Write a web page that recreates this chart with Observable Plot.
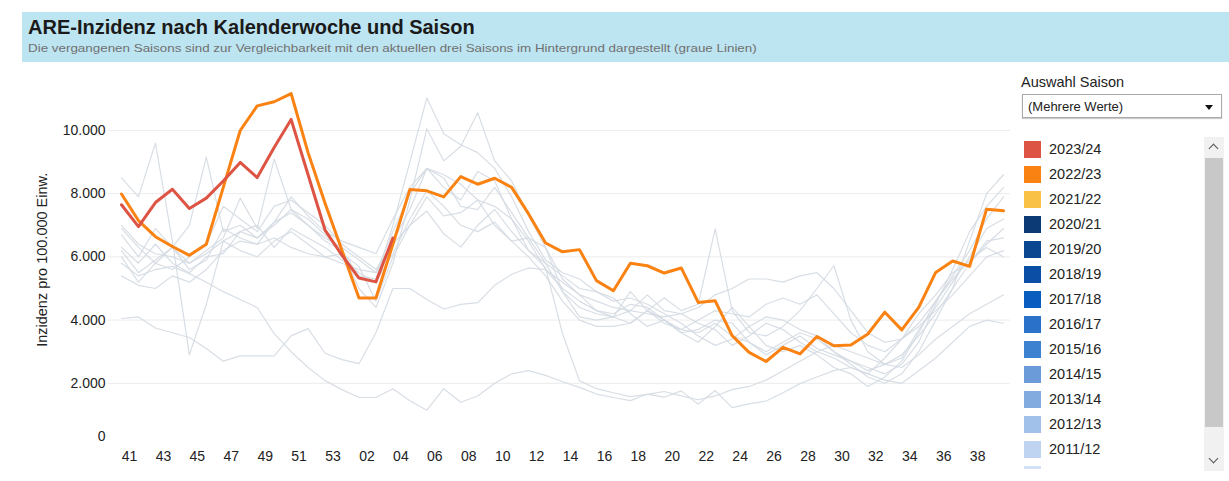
<!DOCTYPE html>
<html><head><meta charset="utf-8">
<script src="https://cdn.jsdelivr.net/npm/d3@7"></script>
<script src="https://cdn.jsdelivr.net/npm/@observablehq/plot@0.6"></script>
<style>
body{margin:0;background:#fff;font-family:"Liberation Sans",Arial,sans-serif;}
#wrap{position:relative;width:1229px;height:481px;overflow:hidden;}
#head{position:absolute;left:22px;top:12px;width:1207px;height:50px;background:#bde4f1;}
#title{position:absolute;left:6px;top:4px;font-size:20px;font-weight:bold;color:#1a1a1a;white-space:nowrap;}
#sub{position:absolute;left:6px;top:29px;font-size:13.4px;color:#707070;white-space:nowrap;transform:scaleY(0.85);transform-origin:left center;}
#chart{position:absolute;left:0;top:70px;}
#panel{position:absolute;left:1021px;top:72px;width:208px;}
#ptitle{position:absolute;left:0;top:2px;font-size:14.5px;color:#222;white-space:nowrap;}
#dd{position:absolute;left:1px;top:22px;width:200px;height:24px;border:1px solid #a9a9a9;box-sizing:border-box;background:#fff;box-shadow:0 1px 1px #ccc;}
#dd span{position:absolute;left:5px;top:4px;font-size:13px;color:#222;}
#dd i{position:absolute;right:8px;top:10px;width:0;height:0;border-left:4px solid transparent;border-right:4px solid transparent;border-top:5px solid #111;}
#list{position:absolute;left:0;top:69px;width:180px;height:328px;overflow:hidden;}
.it{position:absolute;left:0;height:17px;}
.sw{position:absolute;left:3px;top:0;width:17px;height:17px;}
.lb{position:absolute;left:28px;top:0;font-size:14.5px;line-height:17px;color:#222;white-space:nowrap;}
#track{position:absolute;left:1204px;top:137px;width:20px;height:334px;background:#f1f1f1;}
#thumb{position:absolute;left:1px;top:21px;width:18px;height:269px;background:#c8c8c8;}
.chev{position:absolute;left:6px;width:6px;height:6px;border-left:1.5px solid #555;border-top:1.5px solid #555;}
</style></head>
<body>
<div id="wrap">
  <div id="head"><div id="title"></div><div id="sub"></div></div>
  <div id="chart"></div>
  <div id="panel"><div id="ptitle"></div><div id="dd"><span></span><i></i></div><div id="list"></div></div>
  <div id="track"><div class="chev" style="top:8px;transform:rotate(45deg)"></div><div id="thumb"></div><div class="chev" style="top:318px;transform:rotate(225deg)"></div></div>
</div>
<script>
const titleText = "ARE-Inzidenz nach Kalenderwoche und Saison";
const subtitleText = "Die vergangenen Saisons sind zur Vergleichbarkeit mit den aktuellen drei Saisons im Hintergrund dargestellt (graue Linien)";
const yLabel = "Inzidenz pro 100.000 Einw.";
const weeks = ["41","42","43","44","45","46","47","48","49","50","51","52","53","01","02","03","04","05","06","07","08","09","10","11","12","13","14","15","16","17","18","19","20","21","22","23","24","25","26","27","28","29","30","31","32","33","34","35","36","37","38","39","40"];
const tickLabels = ["41","43","45","47","49","51","53","02","04","06","08","10","12","14","16","18","20","22","24","26","28","30","32","34","36","38"];
const yTicks = [0,2000,4000,6000,8000,10000];

const s2324 = [7650,6960,7720,8140,7530,7860,8400,8990,8510,9460,10350,8600,6850,6050,5330,5210,6600];
const s2223 = [7990,7150,6640,6330,6050,6400,8200,10000,10780,10910,11170,9300,7700,6200,4700,4700,6400,8130,8090,7900,8540,8300,8490,8200,7360,6440,6160,6230,5250,4930,5800,5720,5490,5650,4560,4610,3510,2980,2690,3140,2930,3480,3190,3210,3560,4250,3690,4400,5510,5870,5700,7510,7460];

const g1 = [4050,4100,3750,3600,3450,3100,2700,2870,2870,2870,3500,3730,2950,2750,2620,3600,5000,5000,4650,4350,4500,4550,5100,5450,5650,5600,5200,4800,4600,4400,4300,4200,4100,4200,4400,4800,5000,5300,5300,5200,5400,5500,5000,4300,3600,3300,3400,3900,4600,5300,5900,6300,6000];
const g2 = [5800,5400,5600,5700,5470,5200,4900,4650,4400,3570,3000,2500,2085,1800,1550,1550,1830,1450,1150,1830,1400,1600,2000,2300,2400,2250,2050,1870,1660,1550,1450,1660,1560,1760,1340,1770,1230,1350,1440,1700,1990,2200,2400,2500,2300,2100,2000,2400,2800,3300,3800,4000,3900];
const g3 = [6200,5500,5900,6300,5800,6100,6500,6800,6600,7000,7500,7000,6600,6300,5900,5500,6800,8000,8800,8600,8300,7800,7600,7200,6200,5660,3570,2085,1830,1700,1580,1650,1740,1600,1480,1600,1800,1900,2100,2400,2700,3000,3200,3000,2800,2600,2500,2900,3400,3800,4200,4500,4800];
const g4 = [8500,7900,9600,6500,2900,4500,6500,6200,6000,6500,6800,6400,6000,5800,5600,5500,6500,7500,8800,8500,7600,7500,8200,7400,6600,5800,5400,5000,4900,4600,4700,4500,4200,3900,3500,3200,3400,3800,4100,4000,3700,3500,3000,2700,2500,2300,2600,3300,4500,5600,6800,7600,8200];
const g5 = [6000,5200,5800,6300,7000,9160,6800,7000,6600,7100,7400,7000,6500,6200,5400,5300,7000,9000,11030,9900,9550,9300,8800,7900,6800,5900,5500,5300,4900,4700,4200,3800,4000,3600,3700,4000,3900,3300,3000,3300,3600,3400,3000,2600,2200,2000,2300,3000,4000,5000,6500,8000,8600];
const g6 = [7000,6400,6100,6000,5800,6200,6600,7860,6900,9100,7500,7200,6700,6200,5000,4400,5800,7800,10050,9040,9500,10560,9040,8400,7300,6300,5300,4800,4300,4200,4500,4400,4000,3600,3300,3800,4400,3800,3200,3000,3200,2900,2500,2300,1900,2200,2700,3600,4600,5400,6200,7200,7900];
const g7 = [6700,6000,6900,6300,5600,5900,6900,6600,6400,7100,7900,7300,6800,6500,6300,6100,7200,8200,8800,8200,7800,8700,8400,7200,6500,5600,5000,4600,4300,4100,4900,4300,4000,3700,3600,3900,3500,3300,2900,3200,3500,3100,2900,2700,2400,2600,2800,3700,4400,5200,6000,6900,7200];
const g8 = [5400,5100,5000,5400,5200,5600,6200,6500,6400,6600,6300,6100,6000,6100,5700,4600,6000,7000,7450,6730,6310,7000,7500,6800,6200,5800,4900,4400,4200,4100,4300,4800,4300,4200,3900,3700,3200,3500,3900,3700,3300,3000,2800,2500,2300,2800,3400,4200,4800,5500,5800,6500,6600];
const g9 = [6300,5800,6400,5800,5500,6000,6100,6800,7000,6300,6900,6600,6300,5900,5500,5200,6100,7200,8100,7600,7000,6800,7100,6500,6600,6300,4900,4100,4000,4100,3900,4300,4700,4300,4500,6890,4300,3600,3500,3800,4300,5000,5720,4000,3000,2600,2900,3500,4200,5000,5800,6400,6900];
const g10 = [6900,6300,5800,5600,6000,6400,7600,7200,6800,7600,7800,7400,7000,6400,6000,5600,6400,7000,7900,7300,7400,7800,7000,6500,6000,5400,4600,4000,3800,3800,3900,4300,3900,3700,4000,4300,4200,4100,4500,4700,4500,4800,4200,3600,3200,3000,3400,3800,4300,4800,5400,6000,6200];
const graySeries = [g1,g2,g3,g4,g5,g6,g7,g8,g9,g10];
const grayNames = ["2021/22","2020/21","2019/20","2018/19","2017/18","2016/17","2015/16","2014/15","2013/14","2012/13"];

const legendSeasons = ["2023/24","2022/23","2021/22","2020/21","2019/20","2018/19","2017/18","2016/17","2015/16","2014/15","2013/14","2012/13","2011/12"];
const legendColors = ["#dd5444","#fa8212","#f9c146","#0b3a74","#0b4690","#0a4fa5","#0a5cbf","#2a72c9","#3c82d0","#6b9bd9","#82abe0","#a2c1ea","#bed4f1"];
const partialSwatchColor = "#d2e1f5";
const colRed = legendColors[0], colOrange = legendColors[1];

// text
document.getElementById("title").textContent = titleText;
document.getElementById("sub").textContent = subtitleText;
document.getElementById("ptitle").textContent = "Auswahl Saison";
document.querySelector("#dd span").textContent = "(Mehrere Werte)";
const list = document.getElementById("list");
legendSeasons.forEach((s,i)=>{
  const d = document.createElement("div");
  d.className="it"; d.style.top = (i*25)+"px";
  d.innerHTML = `<div class="sw" style="background:${legendColors[i]}"></div><div class="lb">${s}</div>`;
  list.appendChild(d);
});
{
  const d = document.createElement("div");
  d.className="it"; d.style.top = (legendSeasons.length*25)+"px";
  d.innerHTML = `<div class="sw" style="background:${partialSwatchColor}"></div>`;
  list.appendChild(d);
}

// tidy data
const grayData = graySeries.flatMap((arr,j)=>arr.map((v,i)=>({season:grayNames[j], k:i, v})));
const redData = s2324.map((v,i)=>({k:i,v}));
const orangeData = s2223.map((v,i)=>({k:i,v}));
const tickIdx = tickLabels.map(l=>weeks.indexOf(l));
const fmt = d3.formatLocale({decimal:",",thousands:".",grouping:[3],currency:["","€"]}).format(",d");

const chart = Plot.plot({
  width: 1010, height: 400,
  marginLeft: 108, marginRight: 0, marginTop: 12.6, marginBottom: 24,
  x: {domain: [-0.766, 52.41]},
  y: {domain: [0, 11500]},
  style: {fontFamily: "'Liberation Sans', Arial, sans-serif", fontSize: "14px", color: "#222", background: "transparent"},
  marks: [
    Plot.gridY(yTicks.slice(1), {stroke: "#ececec", strokeOpacity: 1, strokeWidth: 1}),
    Plot.axisY(yTicks.slice(1), {tickSize: 0, tickPadding: 3, tickFormat: fmt, label: null, fontSize: 14}),
    Plot.axisY([yTicks[0]], {tickSize: 0, tickPadding: 3, dy: -10, tickFormat: fmt, label: null, fontSize: 14}),
    Plot.axisX(tickIdx, {tickSize: 0, tickPadding: 5, dx: 8, tickFormat: i => weeks[i], label: null, fontSize: 14}),
    Plot.text([yLabel], {frameAnchor: "left", textAnchor: "middle", rotate: -90, dx: -66, dy: -5, fontSize: 14.5, fill: "#222", text: d => d}),
    Plot.line(grayData, {x: "k", y: "v", z: "season", stroke: "#d4dae2", strokeWidth: 1.2, strokeOpacity: 0.9}),
    Plot.line(orangeData, {x: "k", y: "v", stroke: colOrange, strokeWidth: 3}),
    Plot.line(redData, {x: "k", y: "v", stroke: colRed, strokeWidth: 3})
  ]
});
document.getElementById("chart").appendChild(chart);
</script>
</body></html>
